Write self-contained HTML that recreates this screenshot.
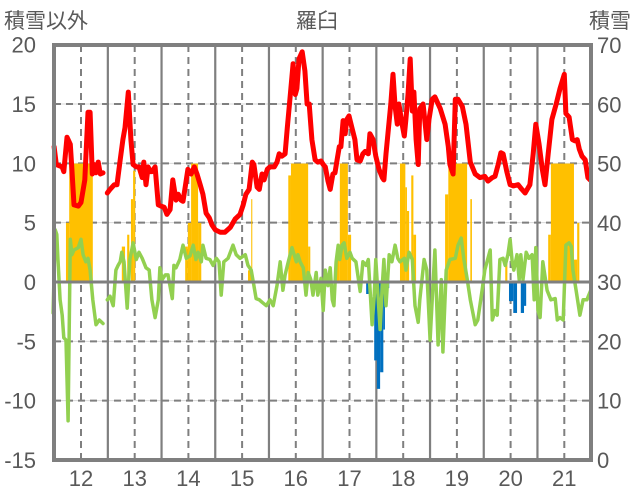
<!DOCTYPE html>
<html><head><meta charset="utf-8"><style>
html,body{margin:0;padding:0;background:#fff;}
svg{display:block;font-family:"Liberation Sans","Noto Sans CJK JP",sans-serif;}
</style></head><body>
<svg id="chart" width="636" height="501" viewBox="0 0 636 501" xmlns="http://www.w3.org/2000/svg">
<g id="grid"></g>
<g id="bars"></g>
<g id="lines"></g>
<g id="frame"></g>
<g id="labels"></g>
</svg>
<script>
const leftTicks=[20,15,10,5,0,-5,-10,-15];
const rightTicks=[70,60,50,40,30,20,10,0];
const xLabels=[12,13,14,15,16,17,18,19,20,21];
const yearBounds=[12.5,13.5,14.5,15.5,16.5,17.5,18.5,19.5,20.5];

const redDates1=[11.50,11.54,11.65,11.68,11.74,11.80,11.83,11.87,11.95,12.00,12.07,12.13,12.17,12.21,12.24,12.28,12.32,12.36,12.41];
const redValues1=[11.4,9.9,9.7,9.3,12.2,11.6,9.5,6.5,6.4,6.7,8.6,14.3,14.3,9.1,9.9,9.2,10.1,9.1,9.2];
const redDates2=[12.49,12.54,12.62,12.67,12.73,12.78,12.82,12.88,12.93,12.97,13.03,13.08,13.14,13.17,13.21,13.25,13.29,13.32,13.38,13.44,13.49,13.55,13.60,13.66,13.71,13.77,13.81,13.86,13.90,13.94,13.99,14.05,14.11,14.16,14.22,14.27,14.33,14.39,14.44,14.50,14.59,14.68,14.78,14.87,14.96,15.02,15.07,15.13,15.19,15.22,15.28,15.32,15.37,15.41,15.47,15.52,15.60,15.65,15.69,15.74,15.80,15.84,15.89,15.95,15.99,16.02,16.06,16.12,16.17,16.21,16.25,16.30,16.36,16.41,16.47,16.51,16.55,16.60,16.64,16.69,16.73,16.77,16.81,16.84,16.88,16.92,16.95,16.99,17.05,17.10,17.14,17.20,17.25,17.29,17.35,17.38,17.44,17.49,17.55,17.61,17.64,17.68,17.74,17.77,17.81,17.85,17.89,17.92,17.98,18.02,18.05,18.09,18.13,18.17,18.20,18.24,18.28,18.31,18.37,18.41,18.44,18.48,18.54,18.59,18.69,18.78,18.84,18.87,18.93,18.97,19.02,19.10,19.17,19.25,19.34,19.43,19.52,19.58,19.66,19.71,19.77,19.82,19.86,19.93,19.99,20.05,20.14,20.21,20.27,20.36,20.42,20.47,20.53,20.59,20.64,20.70,20.77,20.85,20.92,21.00,21.03,21.09,21.15,21.20,21.24,21.28,21.33,21.39,21.44,21.48];
const redValues2=[7.5,7.8,8.2,8.2,10.3,12,13,16,12,9.9,9.7,9.7,8.8,10.1,8.2,9.7,9.3,9.3,9.7,6.5,6.4,6.3,5.7,6.1,8.6,6.9,7.4,6.9,6.8,8,9.5,9.1,9.7,9.1,8.2,7.4,5.8,5.4,4.8,4.4,4.2,4.2,4.6,5.3,5.7,6.5,7.4,7.8,10.1,9.9,8,7.8,9.1,8.6,9.5,9.7,9.7,10.1,10.8,10.6,10.8,12.9,15.4,18.4,15.8,16.3,18.8,19.4,17.8,15,15,12,10.3,10.1,10.2,9.9,9.7,8.5,7.8,9.1,9.2,10.3,11.4,11.4,13.6,12.5,13.7,14,12.9,12,10.3,10.2,10.8,11,10.8,12.5,12,10.6,9.5,8.8,8.6,10.8,13.6,15,17.5,14.8,13.3,15,13.3,12.3,13.7,15.8,18.8,14.4,16,12,9.9,14.6,15,13.3,12,13.7,15.4,15.6,14.6,13.3,11.4,9.9,9.1,15.4,15.4,14.8,13.3,10.1,9.1,8.8,8.9,8.5,8.8,8.9,9.9,10.9,10.8,9.3,8.2,8.1,8.2,7.8,7.5,8.2,10.8,13.3,11.6,9.5,8.2,10.8,13.7,15,16.3,17.5,14.2,13.9,12,11.9,12,11.2,10.6,10.3,8.8,8.6];

const greenDates1=[11.48,11.52,11.55,11.57,11.61,11.65,11.68,11.72,11.76,11.80,11.83,11.87,11.95,12.00,12.04,12.09,12.13,12.17,12.22,12.28,12.34,12.41];
const greenValues1=[-2.6,4.4,4,2,-1.5,-2.8,-4.7,-4.9,-11.7,3.6,2.3,2.7,2.9,3.6,2.3,1.7,2,1,-1.5,-3.6,-3.2,-3.5];
const greenDates2=[12.49,12.54,12.60,12.65,12.69,12.73,12.76,12.80,12.86,12.91,12.97,13.03,13.08,13.14,13.21,13.27,13.32,13.38,13.44,13.47,13.51,13.57,13.62,13.70,13.73,13.77,13.84,13.90,13.96,14.03,14.09,14.14,14.18,14.24,14.27,14.33,14.40,14.46,14.52,14.57,14.61,14.66,14.74,14.83,14.89,14.96,15.06,15.11,15.17,15.22,15.26,15.32,15.37,15.45,15.52,15.58,15.65,15.71,15.76,15.80,15.86,15.93,16.01,16.04,16.08,16.14,16.19,16.23,16.28,16.32,16.38,16.41,16.47,16.51,16.55,16.60,16.64,16.68,16.71,16.75,16.79,16.82,16.86,16.90,16.95,17.01,17.05,17.12,17.20,17.25,17.31,17.35,17.42,17.46,17.49,17.57,17.61,17.64,17.68,17.74,17.79,17.85,17.90,17.94,18.02,18.05,18.11,18.17,18.22,18.28,18.31,18.39,18.44,18.50,18.54,18.59,18.65,18.71,18.74,18.80,18.87,18.97,19.02,19.08,19.13,19.19,19.25,19.34,19.39,19.47,19.52,19.62,19.66,19.71,19.75,19.80,19.86,19.90,19.95,19.99,20.03,20.06,20.12,20.16,20.19,20.23,20.29,20.34,20.40,20.44,20.47,20.51,20.55,20.60,20.68,20.75,20.83,20.87,20.92,20.98,21.03,21.09,21.13,21.16,21.22,21.29,21.35,21.42,21.50];
const greenValues2=[-1.5,-1.2,-2,1,1.4,1.7,2.5,1.7,-2.2,1.9,3.3,1.9,2.5,2,1.2,1,-1.5,-3,-1.5,1.2,0.2,0.6,0.6,-1.4,1.4,1.2,1.9,3.1,2,2.2,3.1,1.9,2.5,1.7,3.1,2,1.9,1.4,2,1.7,-1.1,1.7,2,3.1,2.3,2,2.3,1.4,1,-0.3,-1.4,-1.5,-1.7,-2,-1.5,-2,-0.3,1.7,-0.7,0.6,1.7,2.9,1.7,2.3,1.7,1.2,-1.1,0.8,0.2,-1.1,0.8,-1.1,0.3,-2.4,1,-0.3,1.2,-1.5,-2,1.7,3.1,1.9,3.1,3.3,2,2.5,2,1.7,-0.8,1.7,1.4,1.9,-3.6,-1.2,1.9,-4,-0.3,1.9,-2,2.3,1.7,3.1,2,1.7,2,1,2.5,1.9,-2,-3.4,-1.5,1.9,1,-4.9,-1.5,2.7,-5.3,0.2,-5.9,1,1.9,2,3.1,3.7,1.9,0.3,-1.5,-3.6,-3.2,-0.7,1,2.7,-3.2,-2.4,-2.8,1.9,2,1.4,2.3,3.6,1.7,1,2.3,0.2,2.3,0.2,2.5,2,2.3,-1.5,2.9,-2.4,-3,1.7,-0.7,-1.5,-1.4,-3.2,-3,-3.2,3.1,3.3,3,1,-0.7,-2.8,-1.5,-1.5,-0.6];

const snowStart=[11.72,11.78,12.76,12.86,12.93,12.97,13.94,13.99,14.05,14.18,15.11,15.17,15.86,15.91,16.23,16.73,16.82,16.97,17.94,18.04,18.07,18.15,18.19,18.78,18.84,19.25,19.90,20.70,20.75,21.18,21.24];
const snowEnd=[11.78,12.22,12.82,12.90,12.97,13.01,13.99,14.05,14.18,14.24,15.17,15.19,15.91,16.23,16.27,16.82,16.97,17.03,18.04,18.07,18.11,18.19,18.24,18.84,19.19,19.28,19.94,20.75,21.18,21.24,21.28];
const snowValues=[40,50,36,38,44,48.8,36,40,50,40,32,44,48,50,36,34,50,38,50,46,42,48,38,44.8,50,44,33.8,38,50,33.8,40];
const dropStart=[15.74,17.31,17.46,17.51,17.57,17.63,17.70,19.97,20.05,20.19,20.25];
const dropEnd=[15.76,17.36,17.51,17.57,17.63,17.66,17.74,20.05,20.12,20.25,20.29];
const dropValues=[29.2,28,16.8,12,14.8,22,29,26.8,24.8,24.8,26];

const L=54,R=591,T=45,B=460;
function xs(t){return 81+(t-12)*53.7;}
function yl(v){return 282-(v)*(B-282)/15;}
function yr(v){return B-v*(B-T)/70;}
const NS="http://www.w3.org/2000/svg";
function mk(tag,attrs,parent){const e=document.createElementNS(NS,tag);for(const k in attrs)e.setAttribute(k,attrs[k]);parent.appendChild(e);return e;}
const grid=document.getElementById('grid'),bars=document.getElementById('bars'),lines=document.getElementById('lines'),frame=document.getElementById('frame'),labels=document.getElementById('labels');

leftTicks.forEach(v=>{
  if(v===20||v===-15||v===0)return;
  const y=yl(v);
  const a=mk('line',{x1:L,x2:R,y1:y,y2:y,stroke:'#d9d9d9','stroke-width':1},grid);
  
  
  const g=mk('line',{x1:L,x2:R,y1:y,y2:y,stroke:'#7f7f7f','stroke-width':2,'stroke-dasharray':'7,5'},grid);
  
  
});
yearBounds.forEach(t=>{
  const x=xs(t);
  const g=mk('line',{x1:x,x2:x,y1:T,y2:B,stroke:'#7f7f7f','stroke-width':2.2},grid);
  
  
});
xLabels.forEach(t=>{
  const x=xs(t);
  const g=mk('line',{x1:x,x2:x,y1:T,y2:B,stroke:'#7f7f7f','stroke-width':2,'stroke-dasharray':'7,5'},grid);
  
  
});

for(let i=0;i<snowValues.length;i++){
  const x1=xs(snowStart[i]),x2=xs(snowEnd[i]),y=yr(snowValues[i]),y0=yr(30);
  const r=mk('rect',{x:x1,y:Math.min(y,y0),width:Math.max(1,x2-x1),height:Math.abs(y0-y),fill:'#ffc000'},bars);
  
  
}
for(let i=0;i<dropValues.length;i++){
  const x1=xs(dropStart[i]),x2=xs(dropEnd[i]),y=yr(dropValues[i]),y0=yr(30);
  const r=mk('rect',{x:x1,y:Math.min(y,y0),width:Math.max(1,x2-x1),height:Math.abs(y0-y),fill:'#0070c0'},bars);
  
  
}

function poly(d,v,color,w,name){
  const pts=d.map((t,i)=>xs(t).toFixed(1)+','+yl(v[i]).toFixed(1)).join(' ');
  const p=mk('polyline',{points:pts,fill:'none',stroke:color,'stroke-width':w,'stroke-linejoin':'round','stroke-linecap':'round'},lines);
  
  
}
poly(greenDates1,greenValues1,'#92d050',3.5,'non-snow-line-green');
poly(greenDates2,greenValues2,'#92d050',3.5,'non-snow-line-green');
poly(redDates1,redValues1,'#ff0000',5,'red-line');
poly(redDates2,redValues2,'#ff0000',5,'red-line');

const z=mk('line',{x1:L,x2:R,y1:yl(0),y2:yl(0),stroke:'#7f7f7f','stroke-width':3},frame);


const fr=mk('path',{d:`M${L} ${T} H${R} V${B} H${L} Z`,fill:'none',stroke:'#7f7f7f','stroke-width':4},frame);



leftTicks.forEach(v=>{
  const t=mk('text',{x:36,y:yl(v)+8,'text-anchor':'end','font-size':22,fill:'#595959'},labels);
  t.textContent=v;
  
  
});
rightTicks.forEach(v=>{
  const t=mk('text',{x:597,y:yr(v)+8,'text-anchor':'start','font-size':22,fill:'#595959'},labels);
  t.textContent=v;
  
  
});
xLabels.forEach(v=>{
  const t=mk('text',{x:xs(v),y:486,'text-anchor':'middle','font-size':22,fill:'#595959'},labels);
  t.textContent=v;
  
  
});
</script>
<div style="position:absolute;left:0;top:0;width:636px;height:40px;font-family:'Liberation Sans','Noto Sans CJK JP',sans-serif;font-size:21px;color:#595959;">
<span style="position:absolute;left:4px;top:5px;">積雪以外</span>
<span style="position:absolute;left:296px;top:5px;">羅臼</span>
<span style="position:absolute;left:589px;top:5px;">積雪</span>
</div>
</body></html>
